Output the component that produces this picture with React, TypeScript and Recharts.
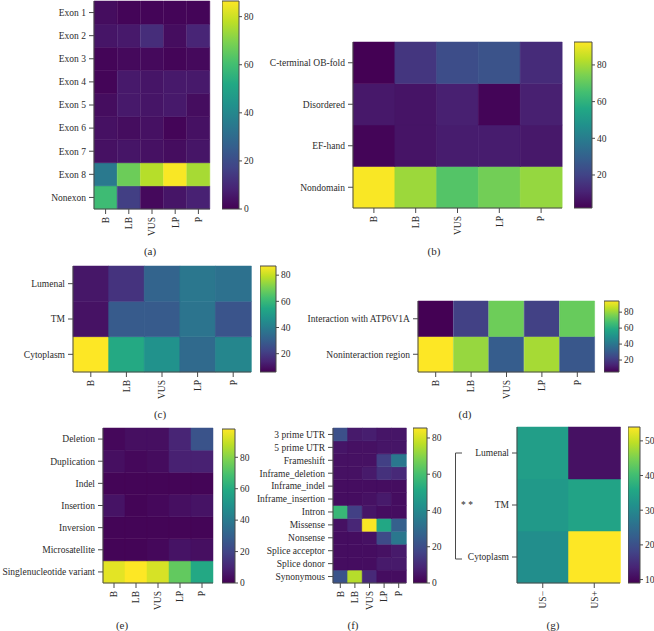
import React from "react";
import { BarChart, Bar, XAxis, YAxis, Cell } from "recharts";

const FONT = "'Liberation Serif', 'DejaVu Serif', serif";
const INK = "#2b2b2b";
const FRAME = "#4a4a4a";

const VIRIDIS = [
  "#440154", "#482475", "#414487", "#355f8d", "#2a788e", "#21918c",
  "#22a884", "#44bf70", "#7ad151", "#bddf26", "#fde725",
];

function mix(a: string, b: string, f: number) {
  const pa = [1, 3, 5].map((i) => parseInt(a.slice(i, i + 2), 16));
  const pb = [1, 3, 5].map((i) => parseInt(b.slice(i, i + 2), 16));
  return "rgb(" + pa.map((v, k) => Math.round(v + (pb[k] - v) * f)).join(",") + ")";
}

function viridis(t: number) {
  const c = Math.min(1, Math.max(0, t)) * 10;
  const i = Math.min(9, Math.floor(c));
  return mix(VIRIDIS[i], VIRIDIS[i + 1], c - i);
}

// ---- data ----
const classes = ["B", "LB", "VUS", "LP", "P"];

const exonRows = ["Exon 1", "Exon 2", "Exon 3", "Exon 4", "Exon 5", "Exon 6", "Exon 7", "Exon 8", "Nonexon"];
const exonValues = [
  [3, 1, 1, 1, 1],
  [5, 6, 11, 3, 9],
  [1, 2, 2, 1, 2],
  [1, 6, 5, 6, 6],
  [3, 6, 5, 6, 3],
  [4, 3, 4, 1, 4],
  [4, 5, 4, 3, 5],
  [35, 67, 77, 86, 75],
  [59, 16, 2, 5, 8],
];
const exonDomain = [0, 86.5];
const exonTicks = [0, 20, 40, 60, 80];

const domainRows = ["C-terminal OB-fold", "Disordered", "EF-hand", "Nondomain"];
const domainValues = [
  [2, 16, 23, 25, 13],
  [8, 7, 10, 3, 10],
  [3, 7, 9, 9, 8],
  [92, 79, 68, 73, 78],
];
const domainDomain = [2, 92.5];
const domainTicks = [20, 40, 60, 80];

const locRows = ["Lumenal", "TM", "Cytoplasm"];
const locValues = [
  [11, 18, 32, 38, 36],
  [10, 29, 29, 37, 27],
  [87, 55, 47, 34, 43],
];
const locDomain = [6, 87];
const locTicks = [20, 40, 60, 80];

const atpRows = ["Interaction with ATP6V1A", "Noninteraction region"];
const atpValues = [
  [5, 22, 74, 22, 73],
  [94, 80, 31, 82, 29],
];
const atpDomain = [5, 94];
const atpTicks = [20, 40, 60, 80];

const typeRows = ["Deletion", "Duplication", "Indel", "Insertion", "Inversion", "Microsatellite", "Singlenucleotide variant"];
const typeValues = [
  [2, 4, 4, 10, 25],
  [4, 2, 3, 9, 9],
  [1, 1, 1, 1, 1],
  [5, 1, 2, 4, 5],
  [1, 1, 1, 1, 1],
  [1, 1, 2, 5, 4],
  [94, 98, 92, 74, 59],
];
const typeDomain = [0, 98];
const typeTicks = [0, 20, 40, 60, 80];

const effectRows = [
  "3 prime UTR", "5 prime UTR", "Frameshift", "Inframe_deletion", "Inframe_indel", "Inframe_insertion",
  "Intron", "Missense", "Nonsense", "Splice acceptor", "Splice donor", "Synonymous",
];
const effectValues = [
  [21, 6, 7, 5, 5],
  [5, 4, 4, 5, 5],
  [4, 4, 4, 16, 34],
  [4, 4, 6, 12, 10],
  [3, 3, 3, 3, 3],
  [3, 3, 4, 6, 3],
  [57, 16, 5, 3, 3],
  [4, 9, 85, 51, 26],
  [3, 3, 4, 19, 34],
  [3, 3, 3, 4, 6],
  [3, 3, 3, 6, 6],
  [22, 76, 10, 3, 3],
];
const effectDomain = [0, 85.5];
const effectTicks = [0, 20, 40, 60, 80];

const usCols = ["US−", "US+"];
const usRows = ["Lumenal", "TM", "Cytoplasm"];
const usValues = [
  [34, 11],
  [33, 35],
  [31, 54],
];
const usDomain = [9, 54];
const usTicks = [10, 20, 30, 40, 50];

// ---- ticks ----
const textStyle = { fontFamily: FONT, fontSize: 9.5 };

const RotTick = (props: any) => {
  const { x, y, payload } = props;
  return (
    <text x={x} y={y} transform={`rotate(-90 ${x} ${y})`} textAnchor="end" dy="0.35em" style={textStyle} fill={INK}>
      {payload.value}
    </text>
  );
};

const RowTick = (props: any) => {
  const { x, y, payload, rows } = props;
  const n = rows.length;
  return (
    <text x={x} y={y} dy="0.35em" textAnchor="end" style={textStyle} fill={INK}>
      {rows[n - 1 - Math.floor(payload.value)]}
    </text>
  );
};

const ScaleTick = (props: any) => {
  const { x, y, payload } = props;
  return (
    <text x={x} y={y} dy="0.35em" textAnchor="start" style={textStyle} fill={INK}>
      {payload.value}
    </text>
  );
};

type HeatProps = {
  rows: string[];
  cols: string[];
  values: number[][];
  domain: number[];
  x: number;
  y: number;
  w: number;
  h: number;
  labelW: number;
};

function Heatmap({ rows, cols, values, domain, x, y, w, h, labelW }: HeatProps) {
  const n = rows.length;
  const data = cols.map((c) => {
    const d: any = { name: c };
    rows.forEach((_, ri) => (d["r" + ri] = 1));
    return d;
  });
  const color = (v: number) => viridis((v - domain[0]) / (domain[1] - domain[0]));
  const order = rows.map((_, i) => n - 1 - i);
  return (
    <div style={{ position: "absolute", left: x - labelW, top: y - 1 }}>
      <BarChart
        width={labelW + w + 1}
        height={h + 46}
        data={data}
        margin={{ top: 1, right: 1, left: 0, bottom: 0 }}
        barCategoryGap={0}
        barGap={0}
      >
        <XAxis
          xAxisId="b"
          dataKey="name"
          height={45}
          interval={0}
          tickSize={5}
          tickMargin={3}
          tick={<RotTick />}
          stroke={FRAME}
        />
        <XAxis xAxisId="t" dataKey="name" orientation="top" height={0} tick={false} tickLine={false} stroke={FRAME} />
        <YAxis
          yAxisId="l"
          type="number"
          domain={[0, n]}
          ticks={rows.map((_, i) => i + 0.5)}
          interval={0}
          width={labelW}
          tickSize={5}
          tickMargin={3}
          stroke={FRAME}
          tick={<RowTick rows={rows} />}
        />
        <YAxis yAxisId="r" orientation="right" type="number" domain={[0, n]} width={0} tick={false} tickLine={false} stroke={FRAME} />
        {order.map((ri) => (
          <Bar key={ri} dataKey={"r" + ri} stackId="s" xAxisId="b" yAxisId="l" isAnimationActive={false}>
            {cols.map((_, ci) => {
              const f = color(values[ri][ci]);
              return <Cell key={ci} fill={f} stroke={f} strokeWidth={0.5} />;
            })}
          </Bar>
        ))}
      </BarChart>
    </div>
  );
}

type BarProps = { domain: number[]; ticks: number[]; x: number; y: number; w: number; h: number };

function ColorBar({ domain, ticks, x, y, w, h }: BarProps) {
  const data = [{ name: "c", v: [domain[0], domain[1]] }];
  return (
    <div style={{ position: "absolute", left: x, top: y - 8 }}>
      <BarChart
        width={w + 30}
        height={h + 16}
        data={data}
        margin={{ top: 8, right: 0, left: 0, bottom: 8 }}
        barCategoryGap={0}
      >
        <XAxis dataKey="name" hide />
        <YAxis
          orientation="right"
          type="number"
          domain={domain}
          ticks={ticks}
          interval={0}
          width={30}
          axisLine={false}
          tickSize={3}
          tickMargin={2}
          stroke={FRAME}
          tick={<ScaleTick />}
        />
        <Bar dataKey="v" fill="url(#viridisGrad)" stroke={FRAME} strokeWidth={1} isAnimationActive={false} />
      </BarChart>
    </div>
  );
}

const Caption = ({ x, y, text }: { x: number; y: number; text: string }) => (
  <div
    style={{
      position: "absolute",
      left: x - 20,
      top: y - 8,
      width: 40,
      textAlign: "center",
      fontSize: 11,
      lineHeight: "16px",
      fontFamily: FONT,
      color: INK,
    }}
  >
    {text}
  </div>
);

export default function App() {
  return (
    <div style={{ position: "absolute", left: 0, top: 0, width: 654, height: 631, background: "#fff", overflow: "hidden" }}>
      <svg width={0} height={0} style={{ position: "absolute" }}>
        <defs>
          <linearGradient id="viridisGrad" x1="0" y1="1" x2="0" y2="0">
            {VIRIDIS.map((c, i) => (
              <stop key={i} offset={i / 10} stopColor={c} />
            ))}
          </linearGradient>
        </defs>
      </svg>

      {/* (a) */}
      <Heatmap rows={exonRows} cols={classes} values={exonValues} domain={exonDomain} x={94} y={1} w={116} h={208} labelW={94} />
      <ColorBar domain={exonDomain} ticks={exonTicks} x={222} y={1} w={17} h={208} />
      <Caption x={150} y={251} text="(a)" />

      {/* (b) */}
      <Heatmap rows={domainRows} cols={classes} values={domainValues} domain={domainDomain} x={353} y={42} w={209} h={166} labelW={90} />
      <ColorBar domain={domainDomain} ticks={domainTicks} x={574} y={42} w={18} h={166} />
      <Caption x={434} y={251} text="(b)" />

      {/* (c) */}
      <Heatmap rows={locRows} cols={classes} values={locValues} domain={locDomain} x={73} y={266} w={178} h={106} labelW={72} />
      <ColorBar domain={locDomain} ticks={locTicks} x={260} y={266} w={16} h={106} />
      <Caption x={160} y={414} text="(c)" />

      {/* (d) */}
      <Heatmap rows={atpRows} cols={classes} values={atpValues} domain={atpDomain} x={418} y={301} w={177} h={71} labelW={118} />
      <ColorBar domain={atpDomain} ticks={atpTicks} x={604} y={301} w={15} h={71} />
      <Caption x={465} y={414} text="(d)" />

      {/* (e) */}
      <Heatmap rows={typeRows} cols={classes} values={typeValues} domain={typeDomain} x={103} y={428} w={110} h={155} labelW={103} />
      <ColorBar domain={typeDomain} ticks={typeTicks} x={222} y={429} w={13} h={154} />
      <Caption x={122} y={625} text="(e)" />

      {/* (f) */}
      <Heatmap rows={effectRows} cols={classes} values={effectValues} domain={effectDomain} x={333} y={428} w={73} h={155} labelW={90} />
      <ColorBar domain={effectDomain} ticks={effectTicks} x={413} y={428} w={14} h={155} />
      <Caption x={353} y={625} text="(f)" />

      {/* (g) */}
      <Heatmap rows={usRows} cols={usCols} values={usValues} domain={usDomain} x={517} y={427} w={103} h={156} labelW={70} />
      <ColorBar domain={usDomain} ticks={usTicks} x={628} y={427} w={12} h={156} />
      <svg width={30} height={120} style={{ position: "absolute", left: 450, top: 446 }}>
        <path d="M12 7 H5.5 V113 H12" fill="none" stroke={FRAME} strokeWidth={1} />
        <text x={17} y={62} style={textStyle} fill={INK} textAnchor="middle">
          * *
        </text>
      </svg>
      <Caption x={553} y={625} text="(g)" />
    </div>
  );
}
